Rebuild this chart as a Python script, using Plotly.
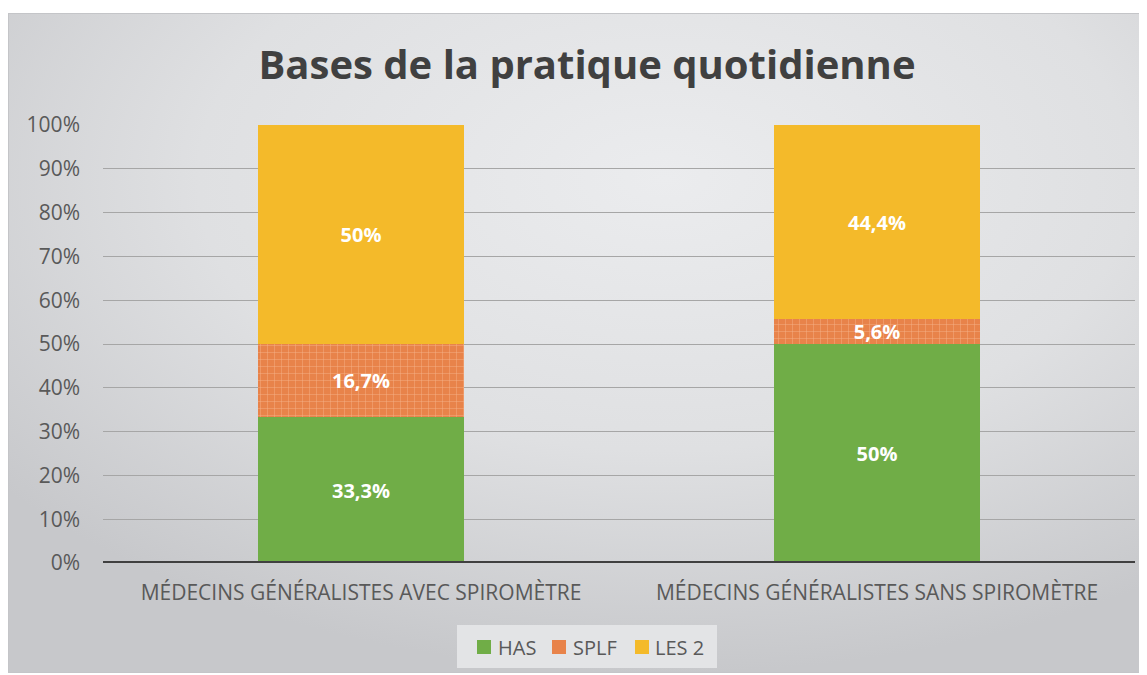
import base64
import plotly.graph_objects as go

categories = ["MÉDECINS GÉNÉRALISTES AVEC SPIROMÈTRE", "MÉDECINS GÉNÉRALISTES SANS SPIROMÈTRE"]
has = [33.3, 50.0]
splf = [16.7, 5.6]
les2 = [50.0, 44.4]
has_lbl = ["33,3%", "50%"]
splf_lbl = ["16,7%", "5,6%"]
les2_lbl = ["50%", "44,4%"]
series_names = ["HAS", "SPLF", "LES 2"]
tick_vals = [0, 10, 20, 30, 40, 50, 60, 70, 80, 90, 100]
tick_text = ["0%", "10%", "20%", "30%", "40%", "50%", "60%", "70%", "80%", "90%", "100%"]

FONT = "Open Sans"
lblfont = dict(family=FONT, size=20, color="white", weight="bold")
OFF = 8  # page body margin
W, H = 1147 - OFF, 675 - OFF
L, R, T, B = 103 - OFF, 12, 125 - OFF, 112
PW, PH = W - L - R, H - T - B


def px(x):
    return (x - OFF - L) / PW


def py(y):
    return (H - B - (y - OFF)) / PH


COL_HAS, COL_SPLF, COL_LES = "#70AD47", "#E8834A", "#F4BA2A"

fig = go.Figure()
common = dict(textposition="inside", insidetextanchor="middle", textangle=0,
              constraintext="none", textfont=lblfont, hoverinfo="skip")
fig.add_trace(go.Bar(name=series_names[0], x=categories, y=has, text=has_lbl,
                     marker=dict(color=COL_HAS, line=dict(width=0)), **common))
fig.add_trace(go.Bar(name=series_names[1], x=categories, y=splf, text=splf_lbl,
                     marker=dict(color=COL_SPLF, line=dict(width=0),
                                 pattern=dict(shape="+", fgcolor="#F6B48C", bgcolor=COL_SPLF,
                                              size=7, solidity=0.12, fillmode="replace")),
                     **common))
fig.add_trace(go.Bar(name=series_names[2], x=categories, y=les2, text=les2_lbl,
                     marker=dict(color=COL_LES, line=dict(width=0)), **common))

# background gradient as an SVG image
svg = (
    '<svg xmlns="http://www.w3.org/2000/svg" width="1133" height="660" viewBox="0 0 1133 660" '
    'preserveAspectRatio="none">'
    '<defs><radialGradient id="g" cx="0.58" cy="0.25" r="0.75" gradientUnits="objectBoundingBox">'
    '<stop offset="0" stop-color="#ebecee"/><stop offset="0.55" stop-color="#dfe0e2"/>'
    '<stop offset="1" stop-color="#c7c8cb"/></radialGradient></defs>'
    '<rect x="0" y="0" width="1133" height="660" fill="url(#g)"/>'
    '<rect x="0.5" y="0.5" width="1132" height="659" fill="none" stroke="#c4c5c8" stroke-width="1"/>'
    '</svg>'
)
src = "data:image/svg+xml;base64," + base64.b64encode(svg.encode()).decode()
images = [dict(source=src, xref="paper", yref="paper", x=px(8), y=py(13),
               sizex=px(1141) - px(8), sizey=py(13) - py(673), xanchor="left", yanchor="top",
               sizing="stretch", layer="below", opacity=1)]

shapes = []
# legend box
shapes.append(dict(type="rect", xref="paper", yref="paper", x0=px(457), x1=px(717),
                   y0=py(668), y1=py(625), fillcolor="#e3e4e6", line=dict(width=0), layer="below"))
# zero line
shapes.append(dict(type="line", xref="paper", yref="y", x0=0, x1=1, y0=0, y1=0,
                   line=dict(color="#404040", width=4), layer="above"))

# manual legend
annotations = []
leg_items = [(series_names[0], COL_HAS, 477, 496), (series_names[1], COL_SPLF, 552, 571),
             (series_names[2], COL_LES, 635, 653)]
for name, col, sx, tx in leg_items:
    shapes.append(dict(type="rect", xref="paper", yref="paper", x0=px(sx), x1=px(sx + 14),
                       y0=py(654), y1=py(640), fillcolor=col, line=dict(width=0)))
    annotations.append(dict(text=name, xref="paper", yref="paper", x=px(tx), y=py(647),
                            xanchor="left", yanchor="middle", showarrow=False,
                            font=dict(family=FONT, size=20, color="#595959")))

fig.update_layout(
    width=W, height=H,
    margin=dict(l=L, r=R, t=T, b=B),
    paper_bgcolor="white", plot_bgcolor="rgba(0,0,0,0)",
    barmode="stack", bargap=0.6, showlegend=False,
    title=dict(text="<b>Bases de la pratique quotidienne</b>", x=px(587), xanchor="center",
               xref="paper", y=1 - (65 - OFF) / H, yanchor="middle",
               font=dict(family=FONT, size=40, color="#404040")),
    font=dict(family=FONT, color="#595959"),
    xaxis=dict(tickfont=dict(size=21, color="#595959"), showgrid=False, showline=False,
               ticks="", ticklabelstandoff=15, automargin=False),
    yaxis=dict(range=[0, 100], tickvals=tick_vals, ticktext=tick_text,
               tickfont=dict(size=21, color="#595959"), showgrid=True, gridcolor="#a6a6a6",
               gridwidth=1, zeroline=False, showline=False, ticks="", ticklabelstandoff=22,
               automargin=False),
    shapes=shapes, images=images, annotations=annotations,
    uniformtext=dict(mode=False),
)
fig.write_html("out.html")
